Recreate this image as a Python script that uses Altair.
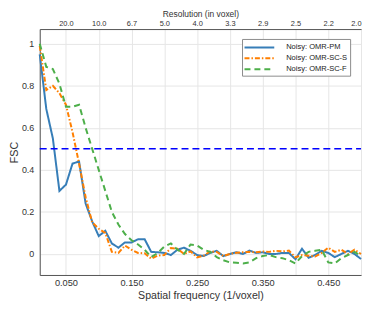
import altair as alt
import pandas as pd

freq = [0.01, 0.02, 0.03, 0.04, 0.05, 0.06, 0.07, 0.08, 0.09, 0.10,
        0.11, 0.12, 0.13, 0.14, 0.15, 0.16, 0.17, 0.18, 0.19, 0.20,
        0.21, 0.22, 0.23, 0.24, 0.25, 0.26, 0.27, 0.28, 0.29, 0.30,
        0.31, 0.32, 0.33, 0.34, 0.35, 0.36, 0.37, 0.38, 0.39, 0.40,
        0.41, 0.42, 0.43, 0.44, 0.45, 0.46, 0.47, 0.48, 0.49, 0.50]

series_names = ["Noisy: OMR-PM", "Noisy: OMR-SC-S", "Noisy: OMR-SC-F"]

fsc_pm = [0.95, 0.69, 0.55, 0.30, 0.33, 0.43, 0.44, 0.24, 0.155, 0.085,
          0.11, 0.05, 0.03, 0.055, 0.055, 0.07, 0.07, 0.01, 0.008, 0.005,
          -0.005, 0.02, 0.03, 0.015, -0.005, -0.01, 0.005, 0.015, -0.01, 0.0,
          0.008, 0.0, 0.016, 0.005, 0.008, 0.0, 0.0, 0.005, 0.005, -0.025,
          0.025, -0.018, -0.005, 0.015, 0.005, -0.015, 0.0, 0.015, 0.0, -0.024]

fsc_scs = [0.99, 0.78, 0.80, 0.765, 0.71, 0.58, 0.43, 0.27, 0.15, 0.12,
           0.10, 0.01, 0.005, 0.04, 0.02, 0.005, 0.003, -0.022, -0.008, -0.005,
           0.028, 0.025, 0.0, 0.012, -0.016, -0.008, 0.012, 0.01, -0.01, 0.0,
           0.006, 0.008, 0.01, 0.008, 0.012, 0.01, 0.015, 0.012, 0.016, -0.016,
           -0.005, -0.008, -0.012, 0.005, 0.03, 0.01, 0.02, 0.0, 0.02, 0.0]

fsc_scf = [1.0, 0.89, 0.88, 0.81, 0.70, 0.70, 0.71, 0.60, 0.50, 0.40,
           0.30, 0.20, 0.14, 0.095, 0.065, 0.045, 0.02, -0.015, 0.005, 0.035,
           0.05, 0.02, 0.0, 0.045, 0.04, 0.02, 0.01, -0.015, -0.03, -0.04,
           -0.042, -0.045, -0.04, -0.02, -0.01, -0.005, -0.015, -0.02, -0.03, -0.045,
           -0.01, 0.01, 0.015, 0.02, -0.04, -0.045, -0.02, -0.005, 0.01, -0.01]

threshold_x = [0.01, 0.50]
threshold_y = [0.5, 0.5]

x_ticks = [0.05, 0.10, 0.15, 0.20, 0.25, 0.30, 0.35, 0.40, 0.45, 0.50]
y_ticks = [0, 0.2, 0.4, 0.6, 0.8, 1]

colors = ["#377eb8", "#ff7f00", "#4daf4a"]
dashes = [[1, 0], [5, 2, 1.5, 2], [6, 4]]

rows = []
for name, vals in zip(series_names, [fsc_pm, fsc_scs, fsc_scf]):
    for f, v in zip(freq, vals):
        rows.append({"freq": f, "fsc": v, "series": name})
df = pd.DataFrame(rows)
df_thr = pd.DataFrame({"freq": threshold_x, "fsc": threshold_y})

FONT = "Liberation Sans"
xdom = [0.01, 0.50]
ydom = [-0.1, 1.07]
GRID = "#e6e6e6"
AX = "#555555"
TXT = "#333333"

y_axis = alt.Axis(values=y_ticks, format="~g", title="FSC", grid=True,
                  gridColor=GRID, ticks=False, labelPadding=6,
                  titlePadding=2, domainColor=AX, labelColor=TXT,
                  titleColor=TXT, labelFontSize=9, titleFontSize=10.8,
                  labelFont=FONT, titleFont=FONT, titleFontWeight="normal")

lines = alt.Chart(df).mark_line(strokeWidth=2).encode(
    x=alt.X("freq:Q", scale=alt.Scale(domain=xdom, nice=False, zero=False),
            axis=alt.Axis(values=x_ticks,
                          labelExpr="(round(datum.value*100) % 10 == 5) ? format(datum.value, '.3f') : ''",
                          title="Spatial frequency (1/voxel)", grid=True,
                          gridColor=GRID, ticks=False, labelPadding=4,
                          titlePadding=2, domainColor=AX, labelColor=TXT,
                          titleColor=TXT, labelFontSize=9.3, titleFontSize=10.7,
                          labelFont=FONT, titleFont=FONT, titleFontWeight="normal")),
    y=alt.Y("fsc:Q", scale=alt.Scale(domain=ydom, nice=False, zero=False), axis=y_axis),
    color=alt.Color("series:N", scale=alt.Scale(domain=series_names, range=colors),
                    legend=alt.Legend(title=None, orient="none", legendX=204, legendY=10,
                                      symbolType="M-3,0H3", symbolSize=100,
                                      symbolStrokeWidth=2, symbolOffset=9,
                                      labelOffset=21, labelFontSize=7.6,
                                      labelFont=FONT, labelColor="#222",
                                      labelExpr="datum.label + '\u00a0\u00a0\u00a0\u00a0\u00a0\u00a0'",
                                      padding=2.5, rowPadding=1,
                                      fillColor="white", strokeColor="#8c8c8c")),
    strokeDash=alt.StrokeDash("series:N", scale=alt.Scale(domain=series_names, range=dashes),
                              legend=None),
    order=alt.Order("freq:Q"),
)

thr = alt.Chart(df_thr).mark_line(color="#0000ff", strokeWidth=1.5, strokeDash=[7, 4]).encode(
    x=alt.X("freq:Q", scale=alt.Scale(domain=xdom, nice=False, zero=False),
            axis=alt.Axis(orient="top", values=x_ticks,
                          labelExpr="format(1/datum.value, '.1f')",
                          title="Resolution (in voxel)", grid=False, ticks=False,
                          labelPadding=2, titlePadding=1, domainColor=AX,
                          labelColor=TXT, titleColor=TXT, labelFontSize=7.5,
                          titleFontSize=8.5, labelFont=FONT, titleFont=FONT,
                          titleFontWeight="normal")),
    y=alt.Y("fsc:Q", scale=alt.Scale(domain=ydom, nice=False, zero=False), axis=y_axis),
)

chart = alt.layer(lines, thr).resolve_scale(x="independent").properties(
    width=324, height=248, padding={"left": 0, "top": 0, "right": 0, "bottom": 0}
).configure_view(stroke=GRID)

chart.save("out.html", embed_options={"renderer": "svg", "actions": False})
